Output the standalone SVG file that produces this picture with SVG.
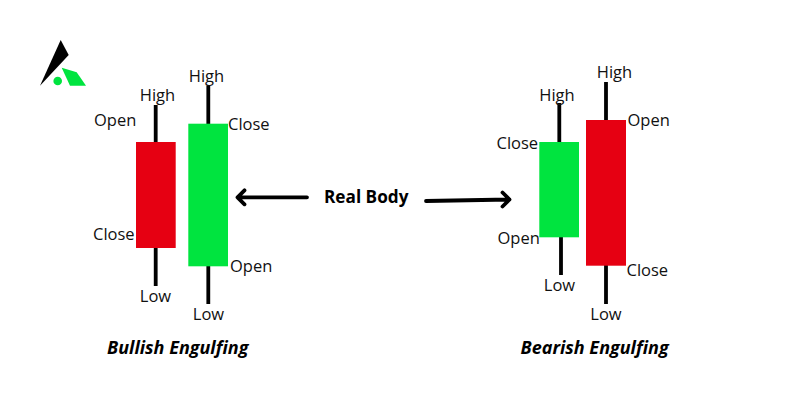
<svg xmlns="http://www.w3.org/2000/svg" width="787" height="400" viewBox="0 0 787 400">
<style>
.t{font-family:"Open Sans","Noto Sans",sans-serif;font-size:16.500px;fill:#111}
.m{text-anchor:middle}
.b{font-family:"Open Sans","Noto Sans",sans-serif;font-size:17.200px;font-weight:700;fill:#000}
.h{font-family:"Open Sans","Noto Sans",sans-serif;font-size:18px;font-weight:700;font-style:italic;fill:#000}
.w{stroke:#000;stroke-width:3.800;fill:none}
.a{stroke:#000;stroke-width:3.800;fill:none;stroke-linecap:round;stroke-linejoin:round}
.g{fill:#00e43f}.r{fill:#e60012}
</style>
<rect width="787" height="400" fill="#fff"/>
<g id="logo"><path d="M60.700 40L68.700 55L40 85.700Z" fill="#000"/><path d="M61.700 67.700L76.700 72.300L86 85.700L70 85.700Z" class="g"/><circle cx="57.700" cy="81" r="4.300" class="g"/></g>
<g id="connectors">
<path class="a" d="M307 197.300H237.500M244.500 190.300L237.500 197.300L244.500 204.300"/>
<path class="a" d="M426 201L509.500 199.500M502.500 192.500L509.500 199.500L502.500 206.500"/>
</g>
<g id="bull-red"><path class="w" d="M155.700 105V142M155.700 248V286"/><rect class="r" x="136" y="142" width="39.700" height="106"/></g>
<g id="bull-green"><path class="w" d="M208.300 86V124M208.300 266V304"/><rect class="g" x="188.300" y="123.700" width="39.700" height="142.600"/></g>
<g id="bear-green"><path class="w" d="M559.300 103V142M561 237V275"/><rect class="g" x="539.300" y="142" width="39.700" height="95.300"/></g>
<g id="bear-red"><path class="w" d="M606 82V120M606 265V304"/><rect class="r" x="586" y="120" width="40" height="145.700"/></g>
<g id="labels">
<text class="t m" x="157.500" y="101">High</text><text class="t" x="94" y="126">Open</text><text class="t" x="93" y="240">Close</text><text class="t m" x="155.500" y="302">Low</text>
<text class="t m" x="206.500" y="82">High</text><text class="t" x="228" y="130">Close</text><text class="t" x="230" y="272">Open</text><text class="t m" x="208.500" y="320">Low</text>
<text class="t m" x="557" y="101">High</text><text class="t" x="496.500" y="149">Close</text><text class="t" x="497.500" y="244">Open</text><text class="t m" x="559.500" y="291">Low</text>
<text class="t m" x="614.500" y="78">High</text><text class="t" x="627.500" y="126">Open</text><text class="t" x="626.500" y="276">Close</text><text class="t m" x="606" y="320">Low</text>
<text class="b" x="324" y="203">Real Body</text>
<text class="h" x="107" y="354">Bullish Engulfing</text>
<text class="h" x="520.500" y="354">Bearish Engulfing</text>
</g>
</svg>
